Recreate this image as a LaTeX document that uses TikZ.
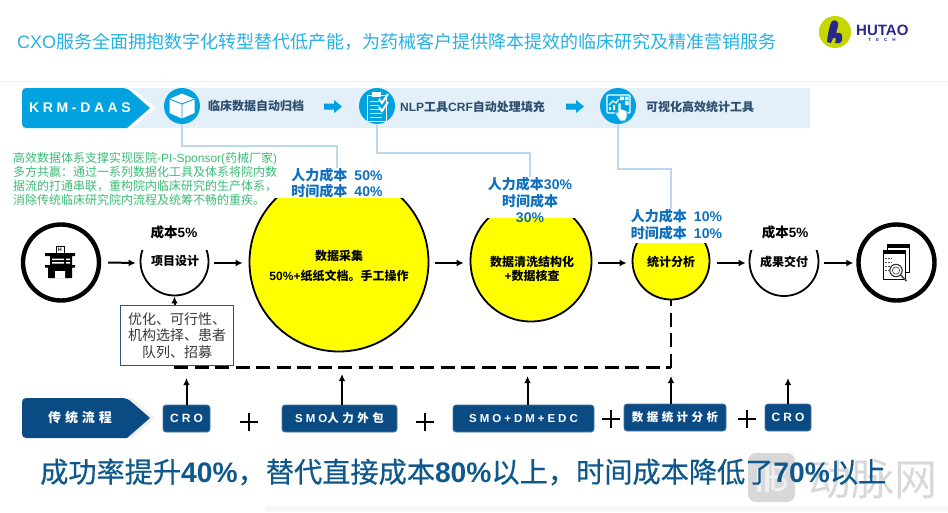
\documentclass[tikz,border=0pt]{standalone}
\usepackage{fontspec}
\usetikzlibrary{arrows.meta,calc}
\setmainfont{Noto Sans CJK SC}
\newfontfamily\lt{Liberation Sans}
\newfontfamily\spcjk[LetterSpace=30]{Noto Sans CJK SC}
\newfontfamily\splat[LetterSpace=26]{Liberation Sans}
\newfontfamily\medcjk[FakeBold=0.5]{Noto Sans CJK SC}
\newcommand{\fs}[1]{\fontsize{#1}{#1}\selectfont}
\definecolor{skyb}{HTML}{00A3E0}
\definecolor{band}{HTML}{E3F0FA}
\definecolor{navy}{HTML}{0B4B84}
\definecolor{conn}{HTML}{BDD7EE}
\definecolor{lbl}{HTML}{0F6FBD}
\definecolor{grn}{HTML}{3DBB78}
\definecolor{bandtxt}{HTML}{2F4F6F}
\definecolor{yel}{HTML}{FFFF00}
\tikzset{
  px/.style={x=1pt,y=-1pt},
  flow/.style={-{Latex[length=7pt,width=7pt]},line width=2pt,black},
  up/.style={-{Latex[length=7pt,width=6.5pt]},line width=2pt,black},
  tool/.style={conn,line width=2pt},
  phase/.style={circle,draw=black,line width=1.8pt,inner sep=0pt,align=center,font=\fs{12}\bfseries},
  yball/.style={phase,fill=yel},
  endring/.style={circle,draw=black,line width=4.4pt,fill=white,inner sep=0pt,minimum size=76pt},
  iconball/.style={circle,fill=skyb,inner sep=0pt,minimum size=36pt},
  tag/.style={rounded corners=3pt,fill=navy,draw=navy!75!white,line width=.7pt,text=white,inner sep=0pt,minimum height=27pt},
  costlbl/.style={inner sep=0pt,align=center,text=lbl,font=\fontsize{14}{16.6}\selectfont\bfseries},
  costblk/.style={inner sep=0pt,align=center,font=\fs{13.5}\bfseries},
  bandlbl/.style={anchor=west,inner sep=0pt,text=bandtxt,font=\fs{12}\bfseries},
  plussign/.style={inner sep=0pt,minimum size=18pt,path picture={\draw[line width=2pt,black] (path picture bounding box.north)--(path picture bounding box.south) (path picture bounding box.west)--(path picture bounding box.east);}},
  feedback/.style={black,line width=2.1pt,dash pattern=on 14pt off 6.5pt},
}
\begin{document}
\begin{tikzpicture}[px]
\useasboundingbox (0,0) rectangle (948,512);
\fill[white] (0,0) rectangle (948,512);
% header
\node[anchor=west,inner sep=0pt,text=skyb!85!white,font=\fs{18}] (title) at (17,42) {{\lt CXO}服务全面拥抱数字化转型替代低产能，为药械客户提供降本提效的临床研究及精准营销服务};
\draw[line width=1.6pt,black!6] (0,81.5) -- (948,81.5);
% logo
\fill[fill={rgb,255:red,197;green,214;blue,0}] (835,32) circle (16);
\fill[fill={rgb,255:red,40;green,40;blue,140}] (827,42) .. controls (828,32) and (830,24) .. (832,21) .. controls (836,19) and (839,22) .. (838,26) .. controls (838,29) and (836,31) .. (836,33) .. controls (840,32) and (843,34) .. (842,37) .. controls (843,39) and (842,42) .. (840,43) -- (835,43) -- (836,38) -- (833,38) -- (831,43) -- cycle;
\node[inner sep=0pt,anchor=west,text={rgb,255:red,40;green,40;blue,140},font=\fs{15}\bfseries\lt] (logotxt) at (856,30) {HUTAO};
\node[inner sep=0pt,text={rgb,255:red,40;green,40;blue,140},font=\fs{4.5}\bfseries\lt] (logosub) at (882,40) {T\hspace{5pt}E\hspace{5pt}C\hspace{5pt}H};
% top band
\fill[band] (132,88) -- (810,88) -- (810,128) -- (132,128) -- (156,108) -- cycle;
\fill[skyb,rounded corners=4pt] (22,108) -- (22,88) -- (127,88) [sharp corners] -- (150,108) -- (127,128) [rounded corners=4pt] -- (22,128) -- cycle;
\node[text=white,inner sep=0pt,font=\fs{14}\bfseries\splat] (krm) at (80,107.5) {KRM-DAAS};
% connectors from tools
\coordinate (b1a) at (182,145.5); \coordinate (b1b) at (337,145.5);
\coordinate (b2a) at (377,153); \coordinate (b2b) at (530,153);
\coordinate (b3a) at (618,168.5); \coordinate (b3b) at (671,168.5);
\node[iconball] (ic1) at (182,106) {};
\node[iconball] (ic2) at (377,106) {};
\node[iconball] (ic3) at (618,106) {};
% cube
\begin{scope}[shift={(182,106)}]
\fill[white] (0,-12.5) -- (12.5,-7) -- (12.5,7) -- (0,12.5) -- (-12.5,7) -- (-12.5,-7) -- cycle;
\draw[skyb,line width=.9pt] (-12.5,-7) -- (0,-2) -- (12.5,-7) (0,-2) -- (0,12.5);
\end{scope}
% clipboard
\begin{scope}[shift={(377,106)}]
\draw[white,line width=.9pt] (-10,-11) rectangle (9,15);
\fill[white] (-5,-14) rectangle (4,-9);
\draw[white,line width=1pt] (-7,-5) -- (2,-5) (-7,-1) -- (2,-1) (-7,3) -- (5,3) (-7,7) -- (5,7) (-7,11) -- (5,11);
\draw[white,line width=2pt] (2,-7) -- (5,-3) -- (11,-12) (2,1) -- (5,5) -- (11,-4);
\end{scope}
% touch screen
\begin{scope}[shift={(618,106)}]
\draw[white,line width=1.3pt,rounded corners=1pt] (-11,-11) rectangle (12,7);
\fill[white] (2,-9.5) rectangle (6,-6) (7,-9.5) rectangle (10.5,-6) (7,-5) rectangle (10.5,-1);
\draw[white,line width=1.2pt] (-9,-1) -- (-5,-5) -- (-2,-3) -- (1,-7);
\fill[white] (-9,4) rectangle (-7,1) (-5,4) rectangle (-3,-1);
\fill[white,draw=skyb,line width=.6pt] (0,-3) -- (3,-3) -- (3,3) -- (9,5) -- (9,11) -- (7,15) -- (2,15) -- (-3,7) -- (0,7) -- cycle;
\end{scope}
% tool labels and arrows
\node[bandlbl] (t1) at (208,106) {临床数据自动归档};
\node[bandlbl] (t2) at (400,106.5) {{\lt NLP}工具{\lt CRF}自动处理填充};
\node[bandlbl] (t3) at (646,107) {可视化高效统计工具};
\fill[skyb] (324,103.5) -- (334,103.5) -- (334,100) -- (342,106.5) -- (334,113) -- (334,109.5) -- (324,109.5) -- cycle;
\fill[skyb] (566,103.5) -- (576,103.5) -- (576,100) -- (584,106.5) -- (576,113) -- (576,109.5) -- (566,109.5) -- cycle;
% phases
\node[endring] (start) at (61,262.5) {};
\node[phase,minimum size=68pt] (p1) at (174.5,261.5) {};
\node[inner sep=0pt,font=\fs{12}\bfseries] (p1t) at (175,261) {项目设计};
\node[yball,minimum size=179pt] (p2) at (339,262) {};
\node[inner sep=0pt,font=\fs{12}\bfseries] (p2a) at (339,256) {数据采集};
\node[inner sep=0pt,font=\fs{12}\bfseries] (p2b) at (339,276) {{\lt 50\%+}纸纸文档。手工操作};
\node[yball,minimum size=121pt] (p3) at (531,261) {};
\node[inner sep=0pt,font=\fs{12}\bfseries] (p3a) at (532,261.5) {数据清洗结构化};
\node[inner sep=0pt,font=\fs{12}\bfseries] (p3b) at (532,276) {{\lt +}数据核查};
\node[yball,minimum size=77pt] (p4) at (671,261) {};
\node[inner sep=0pt,font=\fs{12}\bfseries] (p4t) at (671,261.5) {统计分析};
\node[phase,minimum size=69pt] (p5) at (784,261.5) {};
\node[inner sep=0pt,font=\fs{12}\bfseries] (p5t) at (784,261.5) {成果交付};
\node[endring] (finish) at (896.5,262.5) {};
% masks above the balls
\fill[white] (135,222) rectangle (214,250);
\fill[white] (745,222) rectangle (824,250);
\fill[white] (268,165) rectangle (408,198);
\fill[white] (484,170) rectangle (578,218);
\fill[white] (628,205) rectangle (724,243);
% cost labels
\node[costblk] (c1) at (174,232) {成本{\lt 5\%}};
\node[costblk] (c5) at (785,232) {成本{\lt 5\%}};
\node[costlbl] (c2) at (337,183) {人力成本\hspace{7pt}{\lt 50\%}\\时间成本\hspace{7pt}{\lt 40\%}};
\node[costlbl] (c3) at (530,200) {人力成本{\lt 30\%}\\时间成本\\{\lt 30\%}};
\node[costlbl,font=\fontsize{14}{17}\selectfont\bfseries] (c4) at (676.5,225) {人力成本\hspace{7pt}{\lt 10\%}\\时间成本\hspace{7pt}{\lt 10\%}};
% tool connectors
\draw[tool] (ic1.south) -- (b1a) -- (b1b) -- (b1b |- c2.north);
\draw[tool] (ic2.south) -- (b2a) -- (b2b) -- (b2b |- c3.north);
\draw[tool] (ic3.south) -- (b3a) -- (b3b) -- (b3b |- c4.north);
% green paragraph
\node[anchor=north west,inner sep=0pt,text=grn,font=\fontsize{12}{14}\selectfont,align=left] (para) at (13,152.5) {高效数据体系支撑实现医院{\lt -PI-Sponsor(}药械厂家{\lt )}\\多方共赢：通过一系列数据化工具及体系将院内数\\据流的打通串联，重构院内临床研究的生产体系，\\消除传统临床研究院内流程及统筹不畅的重疾。};
% flow arrows
\draw[flow] ($(start.east)+(7,0)$) -- ($(p1.west)+(-4,1.5)$);
\draw[flow] ($(p1.east)+(5,1.5)$) -- ($(p2.west)+(-6,1)$);
\draw[flow] ($(p2.east)+(6,1)$) -- ($(p3.west)+(-6,2)$);
\draw[flow] ($(p3.east)+(6,2)$) -- ($(p4.west)+(-5,2)$);
\draw[flow] ($(p4.east)+(7,2)$) -- ($(p5.west)+(-3,1.5)$);
\draw[flow] ($(p5.east)+(5,1.5)$) -- ($(finish.west)+(-3,.5)$);
% hospital icon
\draw[black,line width=.6pt] (56,246.5) rectangle (64,253);
\node[inner sep=0pt,font=\fs{5}\bfseries\lt] (hmark) at (60,249.8) {H};
\fill[black] (45,253) rectangle (75,256) (50,256) rectangle (72,265) (45,265) rectangle (75,267.5) (48,267.5) rectangle (72,278);
\fill[white] (52,258.5) rectangle (64,260) (52,262) rectangle (64,263.5) (66,258.5) rectangle (70,260) (66,262) rectangle (70,263.5) (55,271) rectangle (65,278);
% reports icon
\begin{scope}[line width=.6pt]
\draw[black,fill=white] (887,244.5) rectangle (909,272);
\fill[black] (887,244.5) rectangle (909,248);
\draw[black,fill=white] (883,250.5) rectangle (905,279);
\fill[black] (883,250.5) rectangle (905,254);
\draw[black!70,line width=.8pt,dash pattern=on 2pt off 1pt] (885,258) -- (892,258) (885,262) -- (892,262) (885,266) -- (890,266) (885,270) -- (889,270);
\draw[black!80,fill=white,line width=1.1pt] (896,270.5) circle (6.2);
\draw[black!80,line width=.6pt] (896,270.5) circle (3.6);
\draw[black!70,line width=1.7pt] (900.5,275) -- (906.5,281);
\end{scope}
% optimisation box
\node[draw={rgb,255:red,47;green,82;blue,143},line width=1.6pt,fill=white,minimum width=113pt,minimum height=60pt,inner sep=0pt,align=center,text=black!78,font=\fontsize{14}{16.6}\selectfont] (opt) at (177,335.5) {优化、可行性、\\机构选择、患者\\队列、招募};
\draw[up] (opt.north -| p1.south) -- (p1.south);
% dashed feedback
\coordinate (dashl) at (174,367.5);
\coordinate (dashr) at (671,367.5);
\draw[feedback] (dashl) -- (dashr);
\draw[feedback] (dashr) -- (p4.south);
% traditional process
\fill[black!6] (127,398) -- (132,398) -- (155,418) -- (132,438) -- (127,438) -- (150,418) -- cycle;
\fill[navy,rounded corners=4pt] (22,418) -- (22,398) -- (127,398) [sharp corners] -- (150,418) -- (127,438) [rounded corners=4pt] -- (22,438) -- cycle;
\node[text=white,inner sep=0pt,font=\fs{13}\bfseries\spcjk] (trad) at (80,418) {传统流程};
\node[tag,minimum width=47pt,font=\fs{12}\bfseries\splat] (b1) at (186.5,418.5) {CRO};
\node[tag,minimum width=115pt,font=\fs{11.5}\bfseries\spcjk] (b2) at (339.5,418.5) {{\splat SMO}人力外包};
\node[tag,minimum width=141pt,font=\fs{11.5}\bfseries\splat] (b3) at (523.5,418.5) {SMO+DM+EDC};
\node[tag,minimum width=102pt,font=\fs{11.5}\bfseries\spcjk] (b4) at (675,417.5) {数据统计分析};
\node[tag,minimum width=46pt,font=\fs{12}\bfseries\splat] (b5) at (788,417.5) {CRO};
\coordinate (u1) at (186.5,378);
\coordinate (u2) at (342,374);
\coordinate (u3) at (527.5,376);
\coordinate (u4) at (671,376);
\coordinate (u5) at (788,378);
\draw[up] (u1 |- b1.north) -- (u1);
\draw[up] (u2 |- b2.north) -- (u2);
\draw[up] (u3 |- b3.north) -- (u3);
\draw[up] (u4 |- b4.north) -- (u4);
\draw[up] (u5 |- b5.north) -- (u5);
\node[plussign] (pl1) at (249,422) {};
\node[plussign] (pl2) at (425,422) {};
\node[plussign] (pl3) at (611,419) {};
\node[plussign] (pl4) at (747,419) {};
% watermark
\begin{scope}[opacity=.6]
\fill[black!25,rounded corners=8pt] (748,453) rectangle (795,502);
\fill[white] (757,468) rectangle (761,492) (765,463) rectangle (769,492);
\draw[white,line width=3pt] (773,465) -- (773,490) (773,466) .. controls (787,466) and (787,477) .. (775,477) .. controls (789,477) and (789,490) .. (775,490);
\node[inner sep=0pt,anchor=west,text=black!25,font=\fs{43}] (wm) at (808,479) {动脉网};
\end{scope}
% conclusion
\node[anchor=west,inner sep=0pt,text={rgb,255:red,15;green,88;blue,140},font=\fs{28.2}\medcjk] (result) at (40,472) {成功率提升{\bfseries\lt 40\%}，替代直接成本{\bfseries\lt 80\%}以上，时间成本降低了{\bfseries\lt 70\%}以上};
\fill[black!3] (265,506) rectangle (948,512);
\end{tikzpicture}
\end{document}
